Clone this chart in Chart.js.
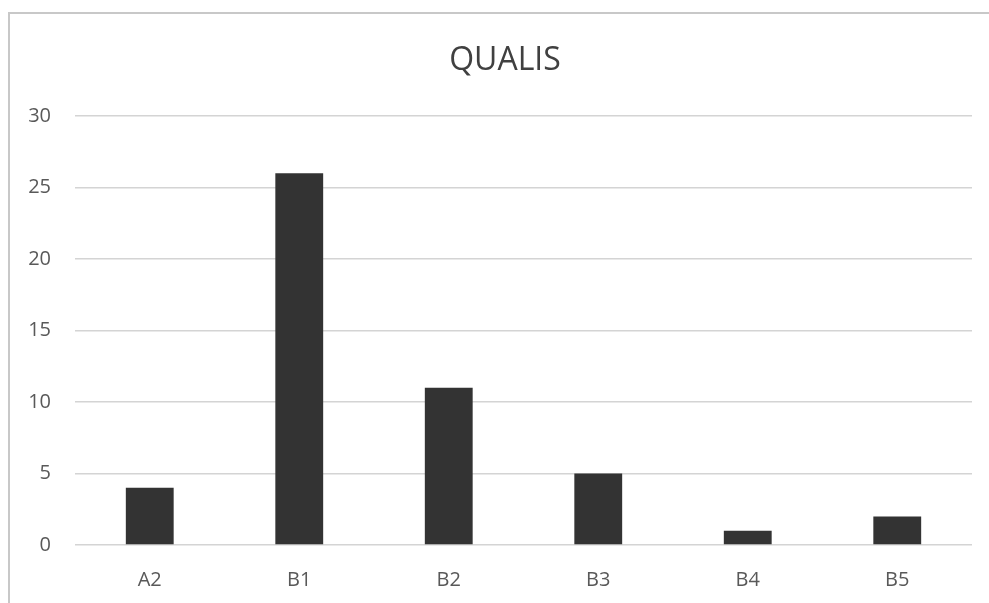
<!DOCTYPE html>
<html>
<head>
<meta charset="utf-8">
<script src="https://cdn.jsdelivr.net/npm/chart.js@4/dist/chart.umd.min.js"></script>
<style>
  html, body { margin: 0; padding: 0; background: #fff; }
  #wrap { position: absolute; left: 0; top: 0; width: 989px; height: 603px; }
</style>
</head>
<body>
<div id="wrap"><canvas id="c" width="989" height="603"></canvas></div>
<script>
// QUALIS stratum counts
const categories = ['A2', 'B1', 'B2', 'B3', 'B4', 'B5'];
const counts = [4, 26, 11, 5, 1, 2];
const yTicks = [0, 5, 10, 15, 20, 25, 30];
const chartTitle = 'QUALIS';

const FONT = '"Open Sans", "Liberation Sans", sans-serif';
const TEXT = '#595959';

// light frame around the chart (right and bottom edges fall outside the page)
// and the title, centred on the frame rather than on the plot
const framePlugin = {
  id: 'frame',
  beforeDraw(chart) {
    const ctx = chart.ctx;
    ctx.save();
    ctx.strokeStyle = '#c8c8c8';
    ctx.lineWidth = 2;
    ctx.beginPath();
    ctx.moveTo(9, 610);
    ctx.lineTo(9, 13);
    ctx.lineTo(995, 13);
    ctx.stroke();

    ctx.fillStyle = '#404040';
    ctx.font = '32px ' + FONT;
    ctx.textAlign = 'center';
    ctx.textBaseline = 'middle';
    ctx.fillText(chartTitle, 505, 61);
    ctx.restore();
  }
};

new Chart(document.getElementById('c'), {
  type: 'bar',
  data: {
    labels: categories,
    datasets: [{
      data: counts,
      backgroundColor: '#333333',
      borderWidth: 0,
      barPercentage: 0.32,
      categoryPercentage: 1.0
    }]
  },
  options: {
    responsive: false,
    animation: false,
    layout: { padding: { left: 0, right: 17, top: 116, bottom: 0 } },
    plugins: {
      legend: { display: false },
      tooltip: { enabled: false },
      title: { display: false }
    },
    scales: {
      x: {
        grid: { display: false, drawTicks: false },
        border: { display: false },
        ticks: { color: TEXT, font: { family: FONT, size: 20 }, padding: 23 },
        afterFit(scale) { scale.height = 58; }
      },
      y: {
        min: 0,
        max: 30,
        afterBuildTicks(scale) { scale.ticks = yTicks.map(v => ({ value: v })); },
        grid: { color: '#d4d4d4', lineWidth: 1.5, drawTicks: false },
        border: { display: false },
        ticks: { color: TEXT, font: { family: FONT, size: 20 }, padding: 24 },
        afterFit(scale) { scale.width = 75; }
      }
    }
  },
  plugins: [framePlugin]
});
</script>
</body>
</html>
